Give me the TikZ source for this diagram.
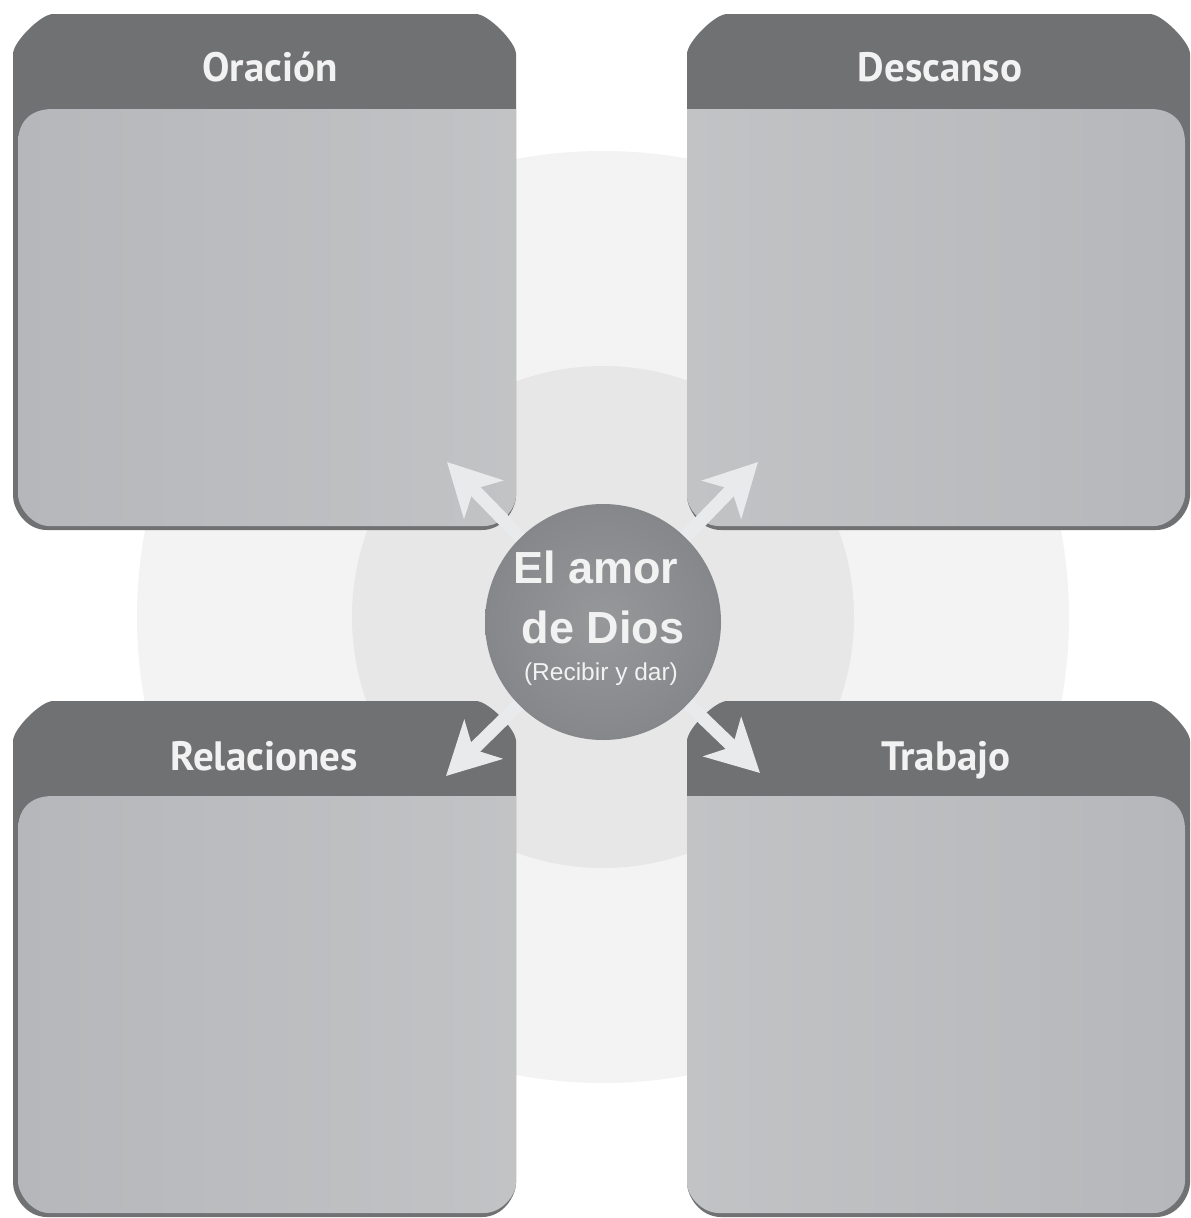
\documentclass[tikz,border=0pt]{standalone}
\usepackage{fontspec}
\usetikzlibrary{arrows.meta}
\newfontfamily\hdrfont{PT Sans}
\newfontfamily\ctrfont{Liberation Sans}
\definecolor{hdr}{HTML}{707173}
\definecolor{bodyA}{HTML}{B6B7BA}
\definecolor{bodyB}{HTML}{C2C3C5}
\definecolor{ringA}{HTML}{F3F3F4}
\definecolor{ringB}{HTML}{E7E7E8}
\definecolor{coreA}{HTML}{97989A}
\definecolor{coreB}{HTML}{86878A}
\definecolor{arrowc}{HTML}{E9EAEB}
\definecolor{txt}{HTML}{F2F2F2}
\tikzset{
  hdrtext/.style={anchor=base, text=txt, font=\hdrfont\bfseries\fontsize{41}{41}\selectfont, inner sep=0pt},
  bigtext/.style={anchor=base, text=txt, font=\ctrfont\bfseries\fontsize{45}{45}\selectfont, inner sep=0pt},
  smalltext/.style={anchor=base, text=txt, font=\ctrfont\fontsize{24.5}{24.5}\selectfont, inner sep=0pt},
  arr/.style={draw=arrowc, line width=13pt, -{Stealth[length=52pt,width=54pt,inset=14pt]}},
}
% #1 = x of outer edge, #2 = y of top edge, #3 = xscale (1 = outer side on left, -1 = outer side on right)
% #4 = left shading colour, #5 = right shading colour
\newcommand{\quadbox}[5]{%
\begin{scope}[shift={(#1,#2)}, xscale=#3]
  \fill[hdr] (0,482) -- (0,40) .. controls (0,28) and (28,0) .. (40,0) -- (463,0)
     .. controls (475,0) and (503,28) .. (503,40) -- (503,482)
     .. controls (503,494) and (491,516) .. (469,516) -- (34,516)
     .. controls (12,516) and (0,494) .. (0,482) -- cycle;
  \shade[left color=#4, right color=#5] (5,480) -- (5,129) .. controls (5,109) and (16,95) .. (40,95) -- (503,95)
     -- (503,482) .. controls (503,494) and (489,512) .. (471,512) -- (36,512)
     .. controls (20,512) and (5,494) .. (5,480) -- cycle;
\end{scope}}
\begin{document}
\begin{tikzpicture}[x=1pt,y=-1pt]
  \useasboundingbox (0,0) rectangle (1191,1218);
  \fill[white] (0,0) rectangle (1191,1218);
  % background rings
  \fill[ringA] (603,617) circle[radius=466];
  \fill[ringB] (603,617) circle[radius=251];
  % four boxes
  \quadbox{13}{14}{1}{bodyA}{bodyB}
  \quadbox{1190}{14}{-1}{bodyB}{bodyA}
  \quadbox{13}{701}{1}{bodyA}{bodyB}
  \quadbox{1190}{701}{-1}{bodyB}{bodyA}
  % headers
  \node[hdrtext] (hTL) at (270,81) {Oración};
  \node[hdrtext] (hTR) at (940,81) {Descanso};
  \node[hdrtext] (hBL) at (264,770) {Relaciones};
  \node[hdrtext] (hBR) at (946,770) {Trabajo};
  % centre circle
  \node[circle, minimum size=236pt, inner sep=0pt, inner color=coreA, outer color=coreB] (love) at (603,622) {};
  \node[bigtext] (t1) at (596,583) {El amor};
  \node[bigtext] (t2) at (603,643) {de Dios};
  \node[smalltext] (t3) at (601,680) {(Recibir y dar)};
  % arrow tips
  \coordinate (tTL) at (447,462);
  \coordinate (tTR) at (758,462);
  \coordinate (tBL) at (446,776);
  \coordinate (tBR) at (760,773);
  \draw[arr] (love) -- (tTL);
  \draw[arr] (love) -- (tTR);
  \draw[arr] (love) -- (tBL);
  \draw[arr] (love) -- (tBR);
\end{tikzpicture}
\end{document}
